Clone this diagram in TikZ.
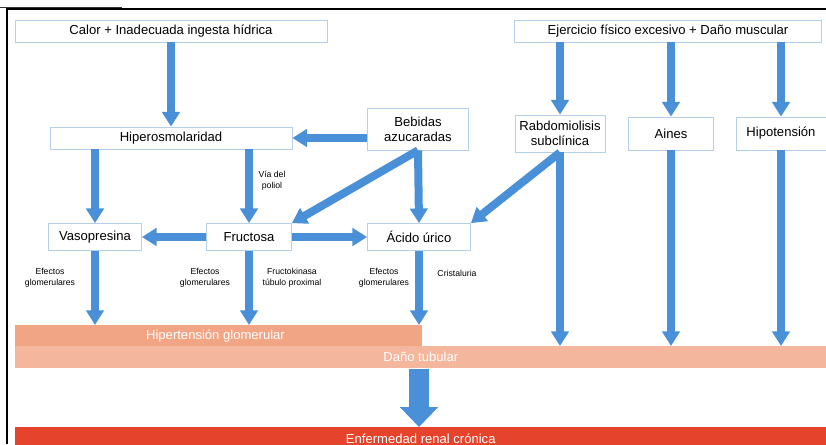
\documentclass[tikz,border=0pt]{standalone}
\usepackage{fontspec}
\setmainfont{Liberation Sans}
\usepackage{xcolor}
\usetikzlibrary{arrows.meta,positioning,calc}
\definecolor{arrowblue}{HTML}{4A90D9}
\definecolor{boxline}{HTML}{B4CFEA}
\definecolor{salmon}{HTML}{F2A585}
\definecolor{palesalmon}{HTML}{F4B69C}
\definecolor{ercred}{HTML}{E5432B}

\begin{document}
\begin{tikzpicture}[
    x=0.75pt, y=-0.75pt,
    box/.style={draw=boxline, line width=0.6pt, fill=white, align=center, inner sep=1pt, font=\fontsize{9.8}{11}\selectfont},
    bar/.style={anchor=north west, inner sep=0pt, text=white, font=\fontsize{9.8}{10}\selectfont},
    note/.style={align=center, inner sep=0pt, font=\fontsize{6.5}{8}\selectfont},
    arrow/.style={-{Triangle[length=11pt, width=13pt]}, line width=6pt, draw=arrowblue},
    bigarrow/.style={-{Triangle[length=15pt, width=28pt]}, line width=15pt, draw=arrowblue}
]
    \useasboundingbox (0,0) rectangle (826,444);
    \draw[line width=0.8pt] (7,444) -- (7,9) -- (826,9);
    \draw[line width=1pt, black!80] (0,7.5) -- (122,7.5);

    % causes
    \node[box, minimum width=312*0.75pt, minimum height=22*0.75pt] (calor) at (171,31) {Calor + Inadecuada ingesta hídrica};
    \node[box, minimum width=307*0.75pt, minimum height=22*0.75pt] (ejercicio) at (668,31) {Ejercicio físico excesivo + Daño muscular};

    \node[box, minimum width=242*0.75pt, minimum height=22*0.75pt] (hiper) at (171,138) {Hiperosmolaridad};
    \node[box, minimum width=101*0.75pt, minimum height=42*0.75pt] (bebidas) at (418,129) {Bebidas\\azucaradas};
    \node[box, minimum width=90*0.75pt, minimum height=37*0.75pt] (rabdo) at (560,133.5) {Rabdomiolisis\\subclínica};
    \node[box, minimum width=85*0.75pt, minimum height=33*0.75pt] (aines) at (671,133.5) {Aines};
    \node[box, minimum width=90*0.75pt, minimum height=33*0.75pt] (hipo) at (781,133.5) {Hipotensión};

    \node[box, minimum width=93*0.75pt, minimum height=27*0.75pt] (vaso) at (95,237) {Vasopresina};
    \node[box, minimum width=85*0.75pt, minimum height=27*0.75pt] (fruc) at (249,237) {Fructosa};
    \node[box, minimum width=103*0.75pt, minimum height=27*0.75pt] (acido) at (419,237) {Ácido úrico};

    % damage bars
    \node[bar, fill=salmon, minimum width=407*0.75pt, minimum height=21*0.75pt] (hg) at (15,325) {\hspace*{-0.5em}Hipertensión glomerular};
    \node[bar, fill=palesalmon, minimum width=811*0.75pt, minimum height=22*0.75pt] (dt) at (15,346) {Daño tubular};
    \node[bar, fill=ercred, minimum width=811*0.75pt, minimum height=22*0.75pt] (erc) at (15,427) {\raisebox{-3pt}{Enfermedad renal crónica}};

    % connectors
    \draw[arrow] (calor) -- (hiper);
    \draw[arrow] (ejercicio.south -| rabdo.north) -- (rabdo.north);
    \draw[arrow] (ejercicio.south -| aines.north) -- (aines.north);
    \draw[arrow] (ejercicio.south -| hipo.north) -- (hipo.north);
    \draw[arrow] (bebidas.west |- hiper.east) -- (hiper.east);
    \draw[arrow] (hiper.south -| vaso.north) -- (vaso.north);
    \draw[arrow] (hiper.south -| fruc.north) -- (fruc.north);
    \draw[arrow] (bebidas.south) -- (fruc.north east);
    \draw[arrow] (bebidas.south) -- (acido.north);
    \draw[arrow] (rabdo.south) -- (acido.north east);
    \draw[arrow] (fruc.west) -- (vaso.east);
    \draw[arrow] (fruc.east) -- (acido.west);
    \draw[arrow] (vaso.south) -- (vaso.south |- hg.north);
    \draw[arrow] (fruc.south) -- (fruc.south |- hg.north);
    \draw[arrow] (acido.south) -- (acido.south |- hg.north);
    \draw[arrow] (rabdo.south) -- (rabdo.south |- dt.north);
    \draw[arrow] (aines.south) -- (aines.south |- dt.north);
    \draw[arrow] (hipo.south) -- (hipo.south |- dt.north);
    \draw[bigarrow] (dt.south -| acido.south) -- (erc.north -| acido.south);

    % labels
    \node[note] (poliol) at (272,181) {Vía del\\poliol};
    \node[note] (efvaso) at (50,278) {Efectos\\glomerulares};
    \node[note] (effruc) at (205,278) {Efectos\\glomerulares};
    \node[note] (kinasa) at (292,278) {Fructokinasa\\túbulo proximal};
    \node[note] (efacido) at (384,278) {Efectos\\glomerulares};
    \node[note] (crista) at (457,273) {Cristaluria};
\end{tikzpicture}
\end{document}
